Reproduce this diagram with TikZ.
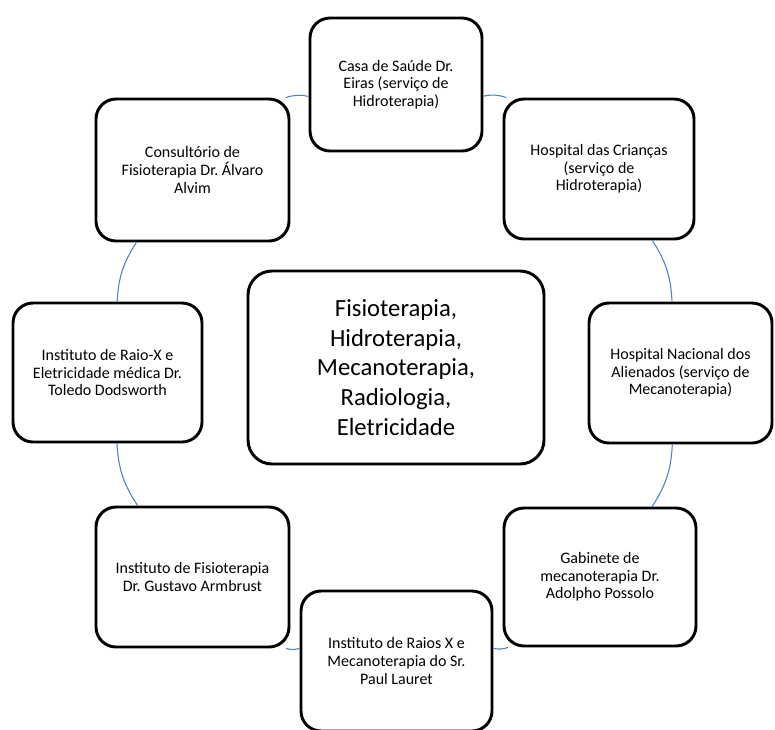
\documentclass[tikz,border=0pt]{standalone}
\usepackage{fontspec}
\setmainfont{Carlito}
\frenchspacing
\definecolor{blaulinie}{RGB}{79,129,189}
\tikzset{
    kasten/.style={draw, line width=2.2pt, rounded corners=15pt, align=center, inner sep=0pt,
        font=\fontsize{12}{13.2}\selectfont},
    mitte/.style={kasten, rounded corners=18pt, font=\fontsize{18.5}{22.3}\selectfont},
    linie/.style={draw=blaulinie, line width=0.8pt}
}

\begin{document}
\begin{tikzpicture}[x=0.75pt, y=0.75pt]
    \useasboundingbox (0,0) rectangle (775,-729);
    \path node[mitte, minimum width=222pt, minimum height=144.75pt] (M) at (396,-367.5)
            {Fisioterapia,\\ Hidroterapia,\\ Mecanoterapia,\\ Radiologia,\\ Eletricidade}
        node[kasten, minimum width=129pt, minimum height=99.75pt] (CS) at (396,-84.5)
            {Casa de Saúde Dr.\\ Eiras (serviço de\\ Hidroterapia)}
        node[kasten, minimum width=142.5pt, minimum height=105pt] (HC) at (599,-169)
            {Hospital das Crianças\\ (serviço de\\ Hidroterapia)}
        node[kasten, minimum width=137.25pt, minimum height=105pt] (HN) at (680.5,-373)
            {Hospital Nacional dos\\ Alienados (serviço de\\ Mecanoterapia)}
        node[kasten, minimum width=144pt, minimum height=103.5pt] (GM) at (600,-577)
            {Gabinete de\\ mecanoterapia Dr.\\ Adolpho Possolo}
        node[kasten, minimum width=143.25pt, minimum height=105pt] (IR) at (396.5,-661)
            {Instituto de Raios X e\\ Mecanoterapia do Sr.\\ Paul Lauret}
        node[kasten, minimum width=144.75pt, minimum height=105pt] (IF) at (192.5,-577)
            {Instituto de Fisioterapia\\ Dr. Gustavo Armbrust}
        node[kasten, minimum width=141.75pt, minimum height=104.25pt] (IE) at (107.5,-372.5)
            {Instituto de Raio-X e\\ Eletricidade médica Dr.\\ Toledo Dodsworth}
        node[kasten, minimum width=144.75pt, minimum height=106.5pt] (CF) at (192.5,-170)
            {Consultório de\\ Fisioterapia Dr. Álvaro\\ Alvim};
    % Kreis um die Mitte
    \draw[linie] (CS) to[bend left=15] (HC);
    \draw[linie] (HC) to[bend left=15] (HN);
    \draw[linie] (HN) to[bend left=15] (GM);
    \draw[linie] (GM) to[bend left=15] (IR);
    \draw[linie] (IR) to[bend left=15] (IF);
    \draw[linie] (IF) to[bend left=15] (IE);
    \draw[linie] (IE) to[bend left=15] (CF);
    \draw[linie] (CF) to[bend left=15] (CS);
\end{tikzpicture}
\end{document}
